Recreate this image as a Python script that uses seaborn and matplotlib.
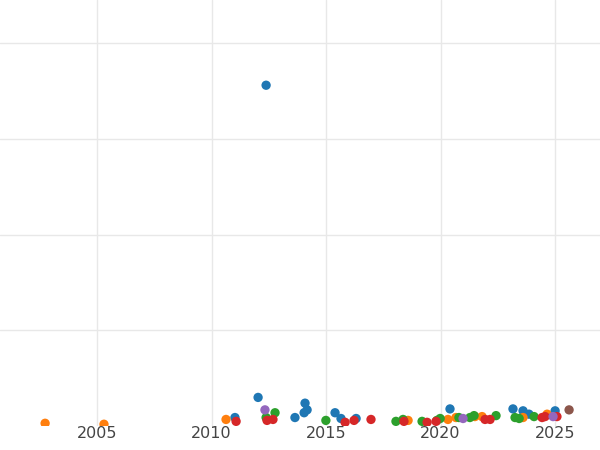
import matplotlib
matplotlib.use("Agg")
import matplotlib.pyplot as plt
import seaborn as sns
import pandas as pd

# points, grouped by colour
blue_x = [2011.02, 2012.03, 2012.38, 2013.64, 2014.08, 2014.17, 2014.04, 2015.39, 2015.65, 2016.31,
          2020.41, 2023.16, 2023.60, 2023.86, 2025.0]
blue_y = [9, 30, 356, 9, 24, 17, 14, 14, 8, 8, 18, 18, 16, 12.5, 16]
orange_x = [2002.73, 2005.30, 2010.63, 2018.58, 2020.32, 2020.67, 2021.50, 2021.81, 2023.60, 2024.65]
orange_y = [3, 2, 7, 6, 7, 9, 10, 10, 9, 12.5]
green_x = [2012.38, 2012.77, 2014.99, 2018.05, 2018.36, 2019.19, 2019.84, 2019.98, 2020.80, 2021.28,
           2021.46, 2022.42, 2023.25, 2023.43, 2024.08]
green_y = [9, 14, 6, 5, 7, 5, 6, 8, 9, 9, 11, 11, 9, 8, 10]
red_x = [2011.07, 2012.42, 2012.68, 2015.83, 2016.22, 2016.96, 2018.40, 2019.41, 2019.80, 2021.94,
         2022.16, 2024.43, 2024.56, 2025.08]
red_y = [5, 6, 7, 4, 6, 7, 5, 4, 5, 7, 7, 9, 10, 10]
purple_x = [2012.33, 2020.98, 2024.91]
purple_y = [17, 8, 10]
brown_x = [2025.61]
brown_y = [17]

groups = ["a", "b", "c", "d", "e", "f"]
xs = [blue_x, orange_x, green_x, red_x, purple_x, brown_x]
ys = [blue_y, orange_y, green_y, red_y, purple_y, brown_y]
df = pd.concat([pd.DataFrame({"year": x, "value": y, "group": g}) for g, x, y in zip(groups, xs, ys)])

sns.set_theme(style="whitegrid", rc={"grid.color": "#e8e8e8", "grid.linewidth": 1.0})
fig = plt.figure(figsize=(6, 4.5), dpi=100)
ax = fig.add_axes([0, 0.053, 1, 0.947])
sns.scatterplot(data=df, x="year", y="value", hue="group", palette="tab10",
                s=45, linewidth=0, legend=False, ax=ax)
ax.set_xlim(2000.76, 2026.96)
ax.set_ylim(0, 445)
ax.set_xticks([2005, 2010, 2015, 2020, 2025])
ax.set_yticks([100, 200, 300, 400])
ax.set_yticklabels([])
ax.tick_params(axis="x", labelsize=11.5, colors="#444444", pad=0, length=0)
ax.tick_params(axis="y", length=0)
ax.set_xlabel("")
ax.set_ylabel("")
for s in ax.spines.values():
    s.set_visible(False)
fig.savefig("out.png", dpi=100)
